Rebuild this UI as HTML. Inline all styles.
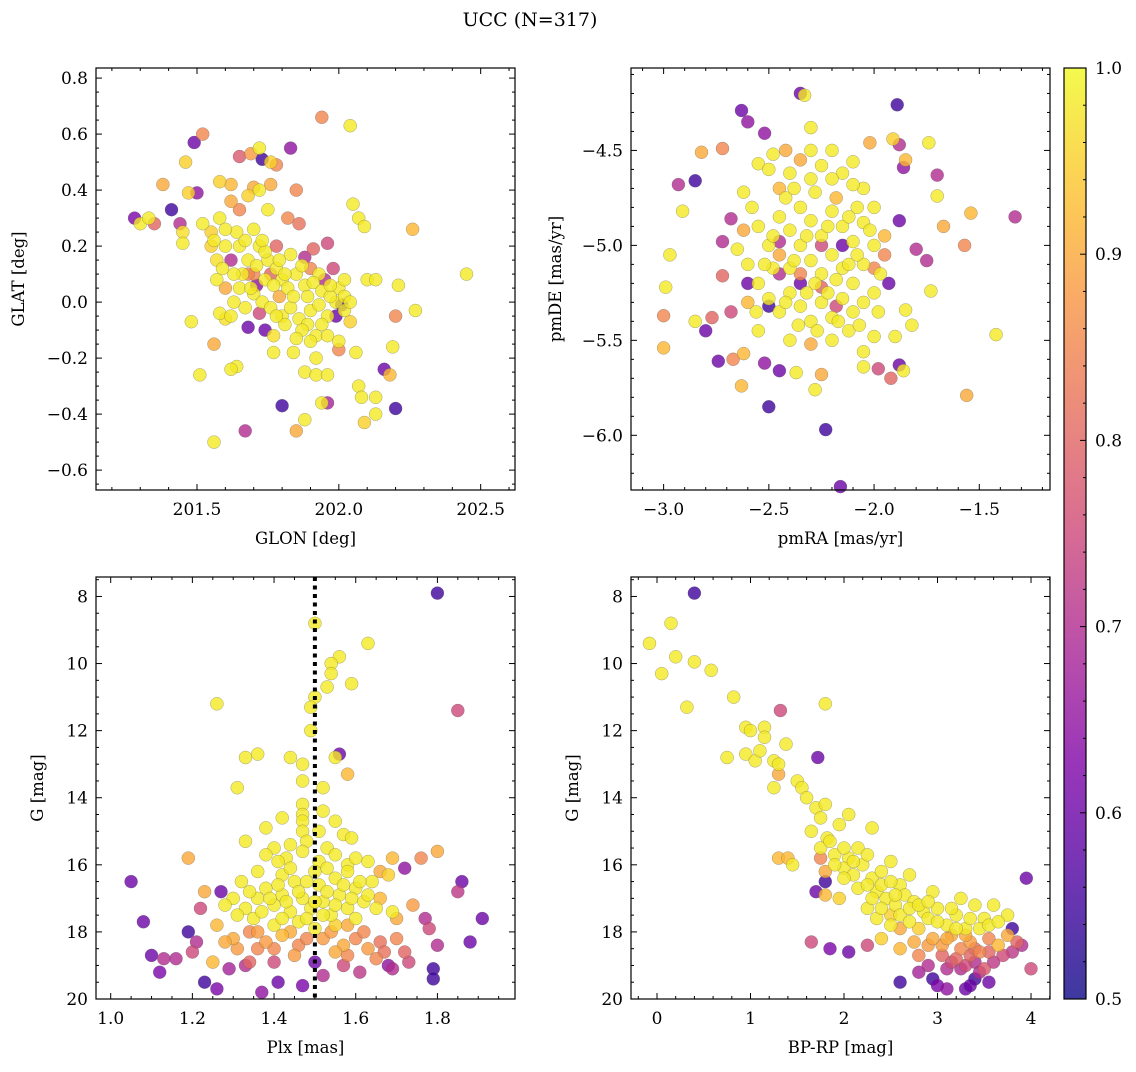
<!DOCTYPE html>
<html><head><meta charset="utf-8"><style>
body{margin:0;background:#fff;}
svg text{font-family:"DejaVu Serif","Liberation Serif",serif;fill:#000;}
</style></head><body>
<svg id="fig" width="1136" height="1067" viewBox="0 0 1136 1067" xmlns="http://www.w3.org/2000/svg">
<text x="530" y="26" font-size="19" text-anchor="middle">UCC (N=317)</text>
</svg>
<script>
// ---- data: [x, y, membership probability] ----
const posData = [[201.94,0.66,0.85],[202.04,0.63,0.98],[201.52,0.6,0.85],[201.49,0.57,0.6],[201.83,0.55,0.65],[201.72,0.55,0.98],[201.65,0.52,0.78],[201.69,0.53,0.88],[201.73,0.51,0.55],[201.76,0.5,0.95],[201.78,0.49,0.85],[201.46,0.5,0.95],[201.5,0.39,0.65],[201.47,0.39,0.95],[201.38,0.42,0.9],[201.28,0.3,0.62],[201.3,0.28,0.98],[201.33,0.3,0.98],[201.35,0.28,0.8],[201.41,0.33,0.55],[201.44,0.28,0.7],[201.45,0.21,0.98],[201.45,0.25,0.97],[201.55,0.25,0.95],[201.58,0.43,0.95],[201.62,0.42,0.92],[201.62,0.36,0.9],[201.65,0.33,0.85],[201.68,0.38,0.95],[201.7,0.41,0.9],[201.72,0.4,0.98],[201.75,0.33,0.98],[201.76,0.42,0.9],[201.85,0.4,0.85],[201.82,0.3,0.85],[201.78,0.2,0.8],[201.86,0.28,0.82],[201.96,0.21,0.75],[201.91,0.19,0.8],[202.05,0.35,0.98],[202.07,0.3,0.98],[202.09,0.27,0.98],[202.26,0.26,0.92],[202.45,0.1,0.98],
[201.55,0.2,0.95],[201.57,0.15,0.97],[201.6,0.2,0.98],[201.62,0.15,0.7],[201.65,0.2,0.98],[201.68,0.15,0.98],[201.7,0.1,0.85],[201.72,0.2,0.98],[201.75,0.15,0.98],[201.78,0.12,0.98],[201.8,0.08,0.98],[201.82,0.05,0.98],[201.85,0.1,0.98],[201.88,0.06,0.98],[201.9,0.12,0.85],[201.93,0.1,0.98],[201.95,0.08,0.7],[201.98,0.12,0.75],[202.0,0.05,0.98],[202.02,0.08,0.98],[201.6,0.05,0.9],[201.63,0.0,0.98],[201.57,0.08,0.98],[201.58,-0.04,0.98],[201.6,-0.06,0.97],[201.65,0.05,0.98],[201.7,0.03,0.98],[201.73,0.0,0.98],[201.76,-0.02,0.98],[201.8,-0.05,0.98],[201.83,-0.02,0.98],[201.86,-0.06,0.98],[201.9,-0.03,0.98],[201.93,-0.01,0.98],[201.96,-0.05,0.98],[201.99,0.0,0.98],[202.02,-0.03,0.98],[201.74,-0.1,0.6],[201.77,-0.12,0.97],[201.72,-0.04,0.75],[201.89,-0.08,0.98],[201.92,-0.12,0.98],[201.96,-0.12,0.98],[202.0,-0.14,0.98],[202.01,-0.01,0.55],[202.04,-0.07,0.95],[202.0,-0.17,0.85],[202.06,-0.18,0.98],[202.2,-0.05,0.85],[202.19,-0.16,0.98],[201.74,0.08,0.98],[201.79,0.02,0.9],[201.68,-0.09,0.6],
[201.48,-0.07,0.98],[201.51,-0.26,0.98],[201.56,-0.15,0.9],[201.64,-0.23,0.98],[201.62,-0.24,0.98],[201.77,-0.18,0.98],[201.84,-0.18,0.98],[201.88,-0.25,0.98],[201.92,-0.26,0.98],[201.96,-0.26,0.98],[201.94,-0.36,0.98],[201.88,-0.42,0.98],[201.8,-0.37,0.55],[201.96,-0.36,0.68],[202.07,-0.3,0.98],[202.08,-0.34,0.98],[202.13,-0.34,0.98],[202.18,-0.26,0.92],[202.13,-0.4,0.98],[202.16,-0.24,0.6],[202.2,-0.38,0.55],[202.09,-0.43,0.95],[201.85,-0.46,0.9],[201.67,-0.46,0.7],[201.56,-0.5,0.98],[202.1,0.08,0.98],[202.13,0.08,0.98],[202.21,0.06,0.98],[202.27,-0.03,0.98],[201.99,-0.05,0.6],
[201.66,0.1,0.98],[201.69,0.05,0.98],[201.71,0.13,0.98],[201.74,0.18,0.98],[201.77,0.06,0.98],[201.79,0.15,0.98],[201.81,0.1,0.98],[201.83,0.17,0.98],[201.84,0.02,0.98],[201.87,0.13,0.98],[201.89,0.02,0.98],[201.91,0.07,0.98],[201.94,0.04,0.98],[201.97,0.02,0.98],[201.87,-0.1,0.98],[201.85,-0.13,0.98],[201.9,-0.14,0.98],[201.94,-0.08,0.98],[201.81,-0.08,0.98],[201.78,-0.05,0.98],[201.67,0.22,0.98],[201.64,0.25,0.98],[201.58,0.3,0.98],[201.6,0.26,0.98],[201.52,0.28,0.98],[201.56,0.22,0.98],[201.7,0.26,0.98],[201.73,0.22,0.98],[201.63,0.1,0.98],[201.59,0.12,0.98],[201.67,-0.02,0.98],[201.62,-0.05,0.98],[202.02,0.02,0.98],[202.04,0.0,0.98],[201.97,0.06,0.98],[201.88,0.16,0.7],[201.76,0.1,0.8],[201.68,0.1,0.85],[201.71,0.06,0.65],[201.92,-0.2,0.98]];
const pmData = [[-2.35,-4.2,0.6],[-2.33,-4.21,0.98],[-1.89,-4.26,0.55],[-2.63,-4.29,0.6],[-2.6,-4.35,0.65],[-2.52,-4.41,0.65],[-2.93,-4.68,0.7],[-2.85,-4.66,0.55],[-2.82,-4.51,0.9],[-2.72,-4.49,0.85],[-2.3,-4.38,0.98],[-2.02,-4.46,0.9],[-1.91,-4.44,0.95],[-1.88,-4.47,0.7],[-1.85,-4.55,0.92],[-1.86,-4.59,0.65],[-1.74,-4.46,0.98],[-1.7,-4.63,0.7],[-1.7,-4.74,0.98],[-1.33,-4.85,0.7],[-1.54,-4.83,0.92],[-1.57,-5.0,0.85],[-1.42,-5.47,0.98],[-1.56,-5.79,0.9],[-2.97,-5.05,0.98],[-2.91,-4.82,0.98],[-2.99,-5.22,0.98],[-3.0,-5.37,0.85],[-3.0,-5.54,0.92],[-2.85,-5.4,0.98],[-2.8,-5.45,0.6],[-2.77,-5.38,0.8],[-2.74,-5.61,0.6],[-2.67,-5.6,0.85],[-2.62,-5.57,0.92],[-2.63,-5.74,0.92],[-2.5,-5.85,0.55],[-2.52,-5.62,0.65],[-2.45,-5.66,0.6],[-2.37,-5.67,0.98],[-2.25,-5.68,0.9],[-2.28,-5.76,0.98],[-2.23,-5.97,0.55],[-2.16,-6.27,0.6],[-1.92,-5.7,0.8],[-1.88,-5.63,0.6],[-1.86,-5.66,0.98],[-1.98,-5.65,0.75],[-1.9,-5.48,0.98],[-2.05,-5.64,0.98],[-2.05,-5.56,0.98],[-2.0,-5.48,0.98],[-1.82,-5.42,0.98],[-1.85,-5.34,0.98],[-1.73,-5.24,0.98],[-1.75,-5.08,0.7],[-1.8,-5.02,0.7],[-1.67,-4.9,0.9],[-1.88,-4.87,0.6],[-1.93,-5.2,0.6],[-2.68,-5.35,0.75],[-2.72,-5.16,0.8],[-2.72,-4.98,0.7],[-2.68,-4.86,0.7],[-2.62,-4.72,0.98],
[-2.55,-4.57,0.98],[-2.5,-4.6,0.98],[-2.45,-4.7,0.92],[-2.4,-4.62,0.98],[-2.35,-4.55,0.9],[-2.3,-4.5,0.98],[-2.25,-4.58,0.98],[-2.2,-4.5,0.98],[-2.15,-4.62,0.98],[-2.1,-4.56,0.98],[-2.05,-4.7,0.98],[-2.0,-4.8,0.98],[-2.45,-4.85,0.98],[-2.4,-4.92,0.98],[-2.35,-4.8,0.98],[-2.3,-4.87,0.98],[-2.25,-4.95,0.98],[-2.2,-4.82,0.98],[-2.15,-4.9,0.98],[-2.1,-4.98,0.98],[-2.05,-4.88,0.98],[-2.0,-5.0,0.98],[-1.95,-4.95,0.92],[-2.5,-5.0,0.98],[-2.45,-5.05,0.9],[-2.4,-5.12,0.98],[-2.35,-5.0,0.98],[-2.3,-5.08,0.98],[-2.25,-5.15,0.98],[-2.2,-5.05,0.98],[-2.15,-5.12,0.98],[-2.1,-5.2,0.98],[-2.05,-5.1,0.98],[-2.0,-5.25,0.98],[-1.95,-5.05,0.85],[-2.55,-5.2,0.98],[-2.5,-5.28,0.98],[-2.45,-5.35,0.98],[-2.4,-5.25,0.98],[-2.35,-5.32,0.98],[-2.3,-5.4,0.98],[-2.25,-5.3,0.98],[-2.2,-5.38,0.98],[-2.15,-5.28,0.98],[-2.1,-5.35,0.98],[-2.05,-5.3,0.98],[-2.6,-5.1,0.98],[-2.6,-5.3,0.92],[-2.55,-4.9,0.98],[-2.65,-5.02,0.98],[-2.55,-5.45,0.98],[-2.4,-5.5,0.98],[-2.3,-5.52,0.9],[-2.2,-5.5,0.98],[-2.12,-5.45,0.98],[-2.45,-5.15,0.7],[-2.25,-5.0,0.75],[-2.15,-5.0,0.6],[-2.35,-5.2,0.6],[-2.5,-5.32,0.55],[-2.42,-4.5,0.9],[-2.18,-4.75,0.92],[-2.58,-4.8,0.98],[-2.28,-4.72,0.98],[-2.08,-4.8,0.98],[-2.0,-5.12,0.85],[-1.98,-5.35,0.98],[-2.48,-4.52,0.98],[-2.36,-5.42,0.98],[-2.6,-5.2,0.6],
[-2.42,-4.75,0.98],[-2.32,-4.95,0.98],[-2.22,-4.9,0.98],[-2.12,-4.85,0.98],[-2.28,-5.2,0.98],[-2.18,-5.18,0.98],[-2.08,-5.05,0.98],[-2.38,-5.08,0.98],[-2.48,-5.12,0.98],[-2.32,-5.25,0.98],[-2.22,-5.25,0.98],[-2.12,-5.1,0.98],[-2.42,-5.3,0.98],[-2.2,-4.65,0.98],[-2.3,-4.65,0.98],[-2.38,-4.7,0.98],[-2.1,-4.68,0.98],[-2.02,-4.92,0.98],[-2.48,-4.95,0.98],[-2.52,-5.1,0.98],[-2.56,-5.35,0.98],[-2.27,-5.45,0.98],[-2.17,-5.4,0.98],[-2.07,-5.42,0.98],[-1.97,-5.15,0.98],[-2.62,-4.92,0.9],[-2.35,-5.15,0.85],[-2.25,-5.22,0.8],[-2.45,-4.98,0.7],[-2.18,-5.32,0.75]];
const plxData = [[1.5,8.8,0.98],[1.8,7.9,0.55],[1.63,9.4,0.98],[1.56,9.8,0.98],[1.54,10.0,0.98],[1.54,10.3,0.98],[1.59,10.6,0.98],[1.53,10.7,0.98],[1.26,11.2,0.98],[1.5,11.0,0.98],[1.49,11.3,0.98],[1.85,11.4,0.75],[1.49,12.0,0.98],[1.36,12.7,0.98],[1.33,12.8,0.98],[1.44,12.8,0.98],[1.56,12.7,0.6],[1.55,12.8,0.98],[1.47,13.0,0.98],[1.47,13.5,0.98],[1.58,13.3,0.92],[1.31,13.7,0.98],[1.52,13.7,0.98],[1.47,14.2,0.98],[1.47,14.5,0.98],[1.47,14.7,0.98],[1.52,14.4,0.98],[1.55,14.7,0.98],[1.42,14.6,0.98],[1.38,14.9,0.98],[1.47,15.0,0.98],[1.51,15.0,0.98],[1.57,15.1,0.98],[1.59,15.2,0.98],[1.33,15.3,0.98],[1.4,15.5,0.98],[1.44,15.4,0.98],[1.48,15.3,0.98],[1.53,15.5,0.98],[1.19,15.8,0.9],[1.38,15.7,0.98],[1.43,15.8,0.98],[1.47,15.6,0.98],[1.51,15.9,0.98],[1.55,15.7,0.98],[1.58,16.0,0.98],[1.63,15.9,0.98],[1.69,15.8,0.92],[1.76,15.8,0.85],[1.8,15.6,0.9],[1.72,16.1,0.65],
[1.3,17.0,0.98],[1.33,17.3,0.98],[1.36,17.0,0.98],[1.38,16.7,0.98],[1.4,17.2,0.98],[1.42,16.9,0.98],[1.44,17.4,0.98],[1.45,16.5,0.98],[1.47,17.0,0.98],[1.49,17.3,0.98],[1.51,16.6,0.98],[1.52,17.1,0.98],[1.54,17.5,0.98],[1.55,16.4,0.98],[1.56,16.9,0.98],[1.58,17.3,0.98],[1.6,16.7,0.98],[1.62,17.1,0.98],[1.64,16.5,0.98],[1.66,17.0,0.92],[1.68,16.3,0.95],[1.69,17.4,0.98],[1.35,17.6,0.98],[1.4,17.8,0.98],[1.46,17.7,0.98],[1.5,17.9,0.98],[1.55,17.8,0.95],[1.6,17.6,0.98],[1.42,16.3,0.98],[1.36,16.2,0.98],[1.31,17.5,0.98],[1.5,16.2,0.98],[1.58,16.2,0.98],[1.23,16.8,0.9],[1.27,16.8,0.6],[1.22,17.3,0.75],[1.26,17.8,0.92],[1.3,18.2,0.9],[1.34,18.0,0.85],[1.38,18.3,0.88],[1.42,18.1,0.92],[1.46,18.4,0.85],[1.52,18.2,0.88],[1.57,18.4,0.9],[1.6,18.2,0.85],[1.63,18.5,0.88],[1.66,18.3,0.82],[1.7,18.2,0.85],[1.72,18.6,0.8],[1.65,18.8,0.85],[1.55,18.6,0.9],[1.45,18.7,0.88],[1.36,18.5,0.85],[1.28,18.3,0.9],[1.25,18.9,0.92],[1.21,18.3,0.7],[1.2,18.6,0.75],[1.16,18.8,0.7],[1.13,18.8,0.7],[1.19,18.0,0.55],[1.08,17.7,0.6],[1.05,16.5,0.6],[1.1,18.7,0.6],[1.12,19.2,0.62],[1.23,19.5,0.55],[1.26,19.7,0.62],[1.29,19.1,0.68],[1.33,19.0,0.7],[1.37,19.8,0.65],[1.41,19.5,0.6],[1.47,19.6,0.62],[1.52,19.3,0.7],[1.57,19.0,0.75],[1.61,19.2,0.72],[1.69,19.1,0.7],[1.79,19.1,0.55],[1.79,19.4,0.55],[1.77,17.6,0.7],[1.78,17.9,0.75],[1.8,18.4,0.7],[1.85,16.8,0.72],[1.86,16.5,0.6],[1.88,18.3,0.6],[1.91,17.6,0.6],[1.73,18.9,0.75],[1.5,18.9,0.6],[1.68,19.0,0.65],[1.4,18.9,0.75],
[1.32,16.5,0.98],[1.34,16.8,0.98],[1.37,17.4,0.98],[1.39,17.0,0.98],[1.41,16.6,0.98],[1.43,17.1,0.98],[1.46,16.8,0.98],[1.48,16.5,0.98],[1.5,17.1,0.98],[1.53,16.8,0.98],[1.55,17.2,0.98],[1.57,16.6,0.98],[1.59,17.0,0.98],[1.61,16.5,0.98],[1.63,16.9,0.98],[1.65,17.3,0.98],[1.48,17.6,0.98],[1.52,17.5,0.98],[1.42,17.6,0.98],[1.58,17.8,0.9],[1.44,18.0,0.9],[1.36,18.0,0.88],[1.48,18.2,0.85],[1.54,18.0,0.88],[1.62,18.0,0.85],[1.67,18.6,0.82],[1.31,18.5,0.88],[1.4,18.5,0.85],[1.58,18.7,0.85],[1.34,18.9,0.8],[1.44,16.1,0.98],[1.53,16.1,0.98],[1.6,15.8,0.98],[1.41,15.9,0.98],[1.66,16.2,0.9],[1.74,17.2,0.88],[1.28,17.2,0.98],[1.7,17.6,0.9]];
const cmdData = [[-0.08,9.4,0.98],[0.15,8.8,0.98],[0.4,7.9,0.55],[0.2,9.8,0.98],[0.05,10.3,0.98],[0.4,9.95,0.98],[0.58,10.2,0.98],[0.32,11.3,0.98],[0.82,11.0,0.98],[1.32,11.4,0.75],[1.8,11.2,0.98],[0.95,11.9,0.98],[1.0,12.0,0.98],[1.15,11.9,0.98],[1.15,12.2,0.98],[0.75,12.8,0.98],[0.95,12.7,0.98],[1.05,12.9,0.98],[1.1,12.6,0.98],[1.25,12.9,0.98],[1.38,12.4,0.98],[1.3,13.0,0.98],[1.3,13.3,0.9],[1.25,13.7,0.98],[1.5,13.5,0.98],[1.55,13.7,0.98],[1.72,12.8,0.6],[1.6,14.0,0.98],[1.7,14.3,0.98],[1.8,14.2,0.98],[1.75,14.6,0.98],[1.65,15.0,0.98],[1.82,15.2,0.98],[1.95,14.8,0.98],[2.05,14.5,0.98],[1.3,15.8,0.92],[1.4,15.8,0.92],[1.45,16.0,0.98],[1.75,15.5,0.98],[1.9,15.7,0.98],[2.05,15.8,0.98],[2.15,15.5,0.98],[2.3,14.9,0.98],[1.75,15.8,0.85],[1.8,16.2,0.9],[2.0,16.1,0.98],[2.1,16.3,0.98],[2.2,16.0,0.98],[2.3,16.4,0.98],[2.4,16.2,0.98],[2.5,15.9,0.98],[2.6,16.6,0.98],[2.7,16.3,0.98],[2.35,16.8,0.98],[2.45,17.0,0.98],[2.55,17.2,0.98],[2.65,16.9,0.98],[2.75,17.1,0.98],[2.85,17.4,0.98],[2.25,17.3,0.98],[2.35,17.6,0.98],[2.5,17.8,0.98],[2.6,17.5,0.98],[2.7,17.7,0.98],[2.8,17.9,0.95],[2.9,17.6,0.98],[3.0,17.3,0.98],[3.1,17.8,0.98],[3.2,17.5,0.98],[3.3,17.9,0.98],[3.4,17.2,0.98],[3.5,17.6,0.98],[3.6,17.2,0.98],[3.75,17.5,0.98],[2.95,18.2,0.9],[3.05,18.4,0.88],[3.15,18.1,0.9],[3.25,18.5,0.85],[3.35,18.3,0.88],[3.45,18.6,0.85],[3.55,18.2,0.85],[3.65,18.4,0.92],[3.75,18.1,0.9],[3.85,18.3,0.8],[3.2,18.8,0.8],[3.3,19.0,0.75],[3.4,18.9,0.7],[3.5,19.1,0.78],[3.6,18.9,0.72],[3.1,19.1,0.7],[2.9,19.0,0.7],[2.8,18.7,0.85],[2.6,18.5,0.92],[2.4,18.2,0.95],[2.25,18.4,0.75],[2.05,18.6,0.6],[1.85,18.5,0.62],[1.65,18.3,0.75],[1.7,16.8,0.6],[1.8,16.5,0.55],[1.8,16.9,0.92],[3.95,16.4,0.6],[3.8,17.9,0.55],[3.9,18.4,0.7],[4.0,19.1,0.75],[3.3,19.7,0.6],[3.0,19.6,0.62],[2.8,19.2,0.68],[2.95,19.4,0.55],[3.55,19.5,0.6],[2.6,19.5,0.55],[3.1,19.7,0.65],[2.5,17.5,0.95],[3.25,17.0,0.98],[2.95,16.8,0.98],
[2.15,16.7,0.98],[2.25,16.6,0.98],[2.4,16.6,0.98],[2.5,16.5,0.98],[2.55,16.9,0.98],[2.7,17.3,0.98],[2.8,17.2,0.98],[2.9,17.1,0.98],[3.0,17.7,0.98],[3.15,17.3,0.98],[3.2,17.9,0.98],[3.35,17.6,0.98],[3.45,17.9,0.98],[3.55,17.8,0.98],[3.65,17.7,0.98],[2.4,17.3,0.98],[2.3,17.0,0.98],[2.0,16.4,0.98],[1.9,16.0,0.98],[2.6,17.9,0.9],[2.75,18.3,0.9],[2.9,18.4,0.88],[3.05,18.7,0.8],[3.15,18.9,0.75],[3.25,19.1,0.7],[3.35,18.7,0.8],[3.45,19.2,0.7],[3.4,18.5,0.82],[3.55,18.6,0.8],[3.7,18.7,0.75],[3.8,18.6,0.72],[3.3,18.1,0.9],[3.1,18.2,0.9],[3.4,19.4,0.55],[3.35,19.6,0.6],[2.0,15.5,0.98],[2.1,15.9,0.98],[2.25,15.7,0.98],[1.95,17.0,0.95],[1.85,15.3,0.98]];
const glonTicks = [201.5,202.0,202.5];
const glatTicks = [0.8,0.6,0.4,0.2,0.0,-0.2,-0.4,-0.6];
const pmraTicks = [-3.0,-2.5,-2.0,-1.5];
const pmdeTicks = [-4.5,-5.0,-5.5,-6.0];
const plxTicks = [1.0,1.2,1.4,1.6,1.8];
const gTicks = [8,10,12,14,16,18,20];
const bprpTicks = [0,1,2,3,4];
const cbarTicks = [0.5,0.6,0.7,0.8,0.9,1.0];
const plxCut = 1.5;

const NS='http://www.w3.org/2000/svg';
const svg=document.getElementById('fig');
function mk(tag,attrs,parent){const e=document.createElementNS(NS,tag);for(const k in attrs)e.setAttribute(k,attrs[k]);(parent||svg).appendChild(e);return e;}
const stops=[[13,8,135],[76,2,161],[126,3,168],[169,35,149],[204,71,120],[229,107,93],[248,148,65],[253,195,40],[240,249,33]];
function plasma(t){t=Math.max(0,Math.min(1,t))*8;const i=Math.min(7,Math.floor(t)),f=t-i;const a=stops[i],b=stops[i+1];return 'rgb('+a.map((v,k)=>Math.round(v+(b[k]-v)*f)).join(',')+')';}
function cval(p){return plasma((p-0.5)/0.5);}
function fmt(v,d){return (v<0?'\u2212':'')+Math.abs(v).toFixed(d);}

function panel(o){
  const g=mk('g',{});
  
  
  const sx=v=>o.x0+(v-o.xmin)/(o.xmax-o.xmin)*(o.x1-o.x0);
  const sy=v=>o.inv? o.y0+(v-o.ymin)/(o.ymax-o.ymin)*(o.y1-o.y0) : o.y1-(v-o.ymin)/(o.ymax-o.ymin)*(o.y1-o.y0);
  const pts=mk('g',{},g);
  
  
  const sorted=o.data.slice().sort((a,b)=>a[2]-b[2]);
  sorted.forEach(d=>{const c=mk('circle',{cx:sx(d[0]).toFixed(1),cy:sy(d[1]).toFixed(1),r:6.5,fill:cval(d[2]),'fill-opacity':0.8,stroke:'#555','stroke-opacity':0.5,'stroke-width':0.5},pts);
    
    });
  if(o.vline!==undefined){const l=mk('line',{x1:sx(o.vline),x2:sx(o.vline),y1:o.y0,y2:o.y1,stroke:'#000','stroke-width':4,'stroke-dasharray':'4 4.5'},g);
    
    }
  const ax=mk('g',{stroke:'#000','stroke-width':1},g);
  
  
  for(let v=Math.ceil(o.xmin/o.xminor-1e-6)*o.xminor;v<=o.xmax+1e-9;v+=o.xminor){const px=sx(v);const maj=o.xt.some(t=>Math.abs(t-v)<1e-6);const L=maj?6:3;
    mk('line',{x1:px,x2:px,y1:o.y1,y2:o.y1-L},ax);mk('line',{x1:px,x2:px,y1:o.y0,y2:o.y0+L},ax);}
  for(let v=Math.ceil(o.ymin/o.yminor-1e-6)*o.yminor;v<=o.ymax+1e-9;v+=o.yminor){const py=sy(v);const maj=o.yt.some(t=>Math.abs(t-v)<1e-6);const L=maj?6:3;
    mk('line',{x1:o.x0,x2:o.x0+L,y1:py,y2:py},ax);mk('line',{x1:o.x1,x2:o.x1-L,y1:py,y2:py},ax);}
  mk('rect',{x:o.x0,y:o.y0,width:o.x1-o.x0,height:o.y1-o.y0,fill:'none',stroke:'#000','stroke-width':1.2},ax);
  o.xt.forEach(v=>{const t=mk('text',{x:sx(v),y:o.y1+25,'font-size':17,'text-anchor':'middle'},g);t.textContent=fmt(v,o.xd);
    
    });
  o.yt.forEach(v=>{const t=mk('text',{x:o.x0-8,y:sy(v)+6,'font-size':17,'text-anchor':'end'},g);t.textContent=fmt(v,o.yd);
    
    });
  const xl=mk('text',{x:(o.x0+o.x1)/2,y:o.y1+54,'font-size':16.5,'text-anchor':'middle'},g);xl.textContent=o.xl;
  
  
  const yx=o.x0-(o.ylx),yc=(o.y0+o.y1)/2;
  const yl=mk('text',{x:yx,y:yc,'font-size':16.5,'text-anchor':'middle',transform:'rotate(-90 '+yx+' '+yc+')'},g);yl.textContent=o.yl;
  
  
}
panel({name:'glon-glat-panel',data:posData,x0:96,x1:515,y0:68,y1:490,xmin:201.144,xmax:202.621,ymin:-0.671,ymax:0.836,xt:glonTicks,yt:glatTicks,xminor:0.1,yminor:0.05,xd:1,yd:1,xl:'GLON [deg]',yl:'GLAT [deg]',ylx:72});
panel({name:'pm-panel',data:pmData,x0:631,x1:1050,y0:68,y1:490,xmin:-3.155,xmax:-1.164,ymin:-6.288,ymax:-4.066,xt:pmraTicks,yt:pmdeTicks,xminor:0.1,yminor:0.1,xd:1,yd:1,xl:'pmRA [mas/yr]',yl:'pmDE [mas/yr]',ylx:70});
panel({name:'plx-g-panel',data:plxData,x0:96,x1:515,y0:577,y1:999,xmin:0.964,xmax:1.99,ymin:7.42,ymax:20,inv:true,xt:plxTicks,yt:gTicks,xminor:0.05,yminor:0.5,xd:1,yd:0,xl:'Plx [mas]',yl:'G [mag]',ylx:53,vline:plxCut});
panel({name:'cmd-panel',data:cmdData,x0:631,x1:1050,y0:577,y1:999,xmin:-0.278,xmax:4.203,ymin:7.42,ymax:20,inv:true,xt:bprpTicks,yt:gTicks,xminor:0.2,yminor:0.5,xd:0,yd:0,xl:'BP-RP [mag]',yl:'G [mag]',ylx:53});

// colorbar
const cb=mk('g',{});


const defs=mk('defs',{},svg);
const lg=mk('linearGradient',{id:'cbg',x1:0,y1:1,x2:0,y2:0},defs);
for(let i=0;i<=20;i++){mk('stop',{offset:(i/20),'stop-color':plasma(i/20),'stop-opacity':0.8},lg);}
const cx0=1064,cx1=1086,cy0=68,cy1=999;
const cy=v=>cy1-(v-0.5)/0.5*(cy1-cy0);
mk('rect',{x:cx0,y:cy0,width:cx1-cx0,height:cy1-cy0,fill:'url(#cbg)',stroke:'#000','stroke-width':1.2},cb);
for(let v=0.5;v<=1.0001;v+=0.02){const maj=cbarTicks.some(t=>Math.abs(t-v)<1e-6);mk('line',{x1:cx1,x2:cx1-(maj?6:3),y1:cy(v),y2:cy(v),stroke:'#000','stroke-width':1},cb);}
cbarTicks.forEach(v=>{const t=mk('text',{x:cx1+9,y:cy(v)+6,'font-size':17},cb);t.textContent=v.toFixed(1);
  
  });
</script>
</body></html>
